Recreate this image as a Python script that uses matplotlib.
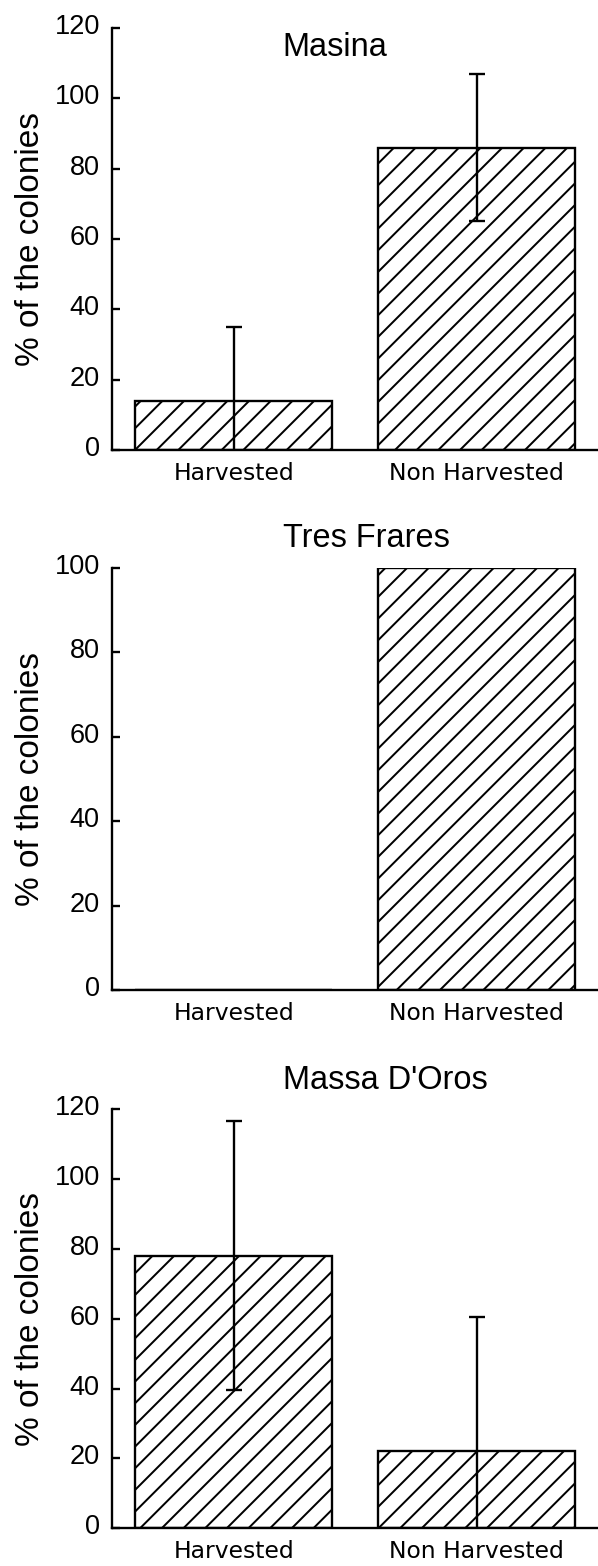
import numpy as np
import matplotlib
matplotlib.use('Agg')
import matplotlib.pyplot as plt
from matplotlib.transforms import ScaledTranslation

# data
categories = ['Harvested', 'Non Harvested']
sites = ['Masina', 'Tres Frares', "Massa D'Oros"]
masina_pct = [14, 86]
masina_err = [21, 21]
tres_frares_pct = [0, 100]
tres_frares_err = None
massa_doros_pct = [78, 22]
massa_doros_err = [38.5, 38.5]
y_max = [120, 100, 120]

pct = [masina_pct, tres_frares_pct, massa_doros_pct]
errs = [masina_err, tres_frares_err, massa_doros_err]

plt.rcParams['font.family'] = ['Liberation Sans', 'DejaVu Sans']
plt.rcParams['hatch.linewidth'] = 1.1

DPI = 130
fig = plt.figure(figsize=(598 / DPI, 1566 / DPI), dpi=DPI)

rects = [(0.188, 0.7126, 0.812, 0.2695),
         (0.188, 0.3678, 0.812, 0.2697),
         (0.188, 0.0241, 0.812, 0.2676)]
title_y = [0.934, 1.049, 1.0485]

x = np.arange(len(categories))
lift = ScaledTranslation(0, 4 / DPI, fig.dpi_scale_trans)

for i, site in enumerate(sites):
    ax = fig.add_axes(rects[i])
    ax.bar(x, pct[i], width=0.81, color='white', edgecolor='black',
           linewidth=1.3, hatch='//', zorder=2)
    if errs[i] is not None:
        ax.errorbar(x, pct[i], yerr=errs[i], fmt='none', ecolor='black',
                    elinewidth=1.3, capsize=4.4, capthick=1.3, zorder=3)
    ax.set_xlim(-0.5, 1.5)
    ax.set_ylim(0, y_max[i])
    ax.set_yticks(np.arange(0, y_max[i] + 1, 20))
    ax.set_xticks(x)
    ax.set_xticklabels(categories, family='DejaVu Sans', fontsize=13)
    ax.tick_params(axis='x', length=0, pad=6.5)
    ax.tick_params(axis='y', direction='in', length=4.4, width=1.3,
                   pad=7, labelsize=15)
    for lab in ax.get_yticklabels():
        lab.set_transform(lab.get_transform() + lift)
    for s in ['top', 'right']:
        ax.spines[s].set_visible(False)
    for s in ['left', 'bottom']:
        ax.spines[s].set_linewidth(1.3)
        ax.spines[s].set_zorder(4)
    ax.set_ylabel('% of the colonies', fontsize=18.5)
    ax.yaxis.set_label_coords(-0.137, 0.5)
    ax.text(0.351, title_y[i], site, transform=ax.transAxes,
            fontsize=18, ha='left', va='baseline')

fig.savefig('out.png', dpi=DPI)
